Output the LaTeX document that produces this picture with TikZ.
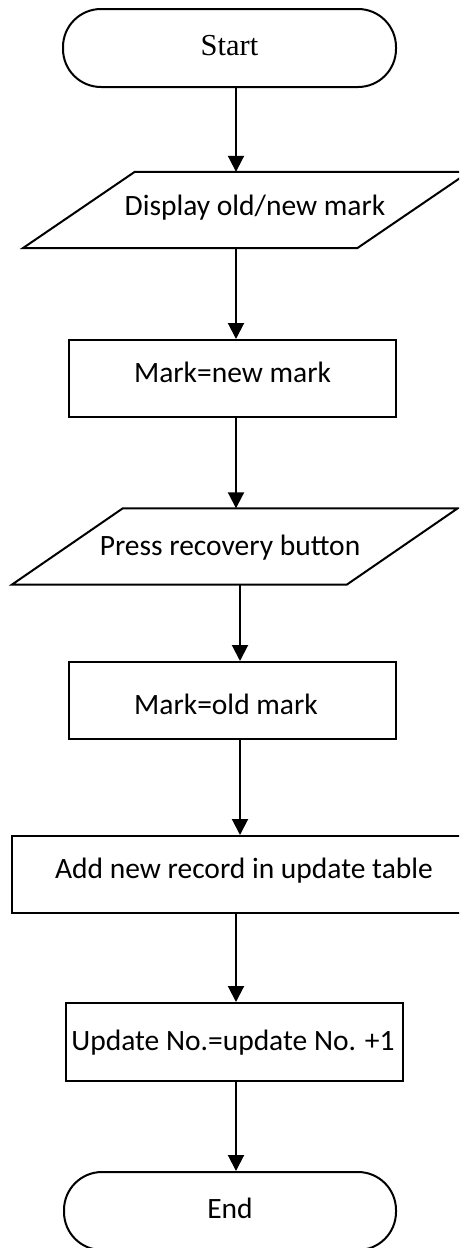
\documentclass[tikz,border=0pt]{standalone}
\usepackage{fontspec}
\setmainfont{Carlito}
\newfontfamily\serifface{Liberation Serif}
\usetikzlibrary{arrows.meta,calc}
\begin{document}
\begin{tikzpicture}[x=1pt,y=-1pt,
  every node/.style={font=\fontsize{29.5}{33}\selectfont},
  box/.style={draw, line width=2pt, inner sep=0pt, minimum width=327pt, minimum height=77pt},
  term/.style={box, rounded corners=38pt, minimum width=333pt, minimum height=78pt},
  io/.style={inner sep=0pt, minimum width=334pt, minimum height=76pt},
  iodraw/.style={draw, line width=2pt, line join=miter},
  arr/.style={line width=2pt, -{Triangle[length=16pt,width=16pt]}},
]
\useasboundingbox (0,0) rectangle (459,1248);
\clip (0,0) rectangle (459,1248);

\node[term, text height=20pt, text depth=6pt, font=\serifface\fontsize{30.5}{34}\selectfont] (start) at (229.5,48) {Start};

\node[io, text height=18pt, text depth=8pt] (disp) at (246,210) {\hspace*{18pt}Display old/new mark};
\draw[iodraw] ($(disp.north west)+(56,0)$) -- ($(disp.north east)+(56,0)$) -- ($(disp.south east)+(-56,0)$) -- ($(disp.south west)+(-56,0)$) -- cycle;

\node[box, text height=18pt, text depth=11pt] (mnew) at (232.5,378.5) {Mark=new mark};

\node[io, minimum width=334.5pt, text height=18pt, text depth=1pt] (press) at (234.75,546.5) {\hspace*{-9.5pt}Press recovery button};
\draw[iodraw] ($(press.north west)+(55.5,0)$) -- ($(press.north east)+(55.5,0)$) -- ($(press.south east)+(-55.5,0)$) -- ($(press.south west)+(-55.5,0)$) -- cycle;

\node[box, text height=27pt, text depth=0pt] (mold) at (232.5,700.5) {\hspace*{-13pt}Mark=old mark};

\node[box, minimum width=464pt, text height=18pt, text depth=11pt] (add) at (244,874.5) {Add new record in update table};

\node[box, minimum width=337pt, minimum height=78pt, text height=18pt, text depth=2pt] (upd) at (234.5,1042) {\hspace*{-3pt}Update No.=update No. +1};

\node[term, minimum width=332pt, text height=18pt, text depth=4pt] (end) at (230,1211) {End};

\coordinate (colL) at (236,0);
\coordinate (colR) at (240,0);
\draw[arr] (start.south -| colL) -- (disp.north -| colL);
\draw[arr] (disp.south -| colL) -- (mnew.north -| colL);
\draw[arr] (mnew.south -| colL) -- (press.north -| colL);
\draw[arr] (press.south -| colR) -- (mold.north -| colR);
\draw[arr] (mold.south -| colR) -- (add.north -| colR);
\draw[arr] (add.south -| colL) -- (upd.north -| colL);
\draw[arr] (upd.south -| colL) -- (end.north -| colL);
\end{tikzpicture}
\end{document}
